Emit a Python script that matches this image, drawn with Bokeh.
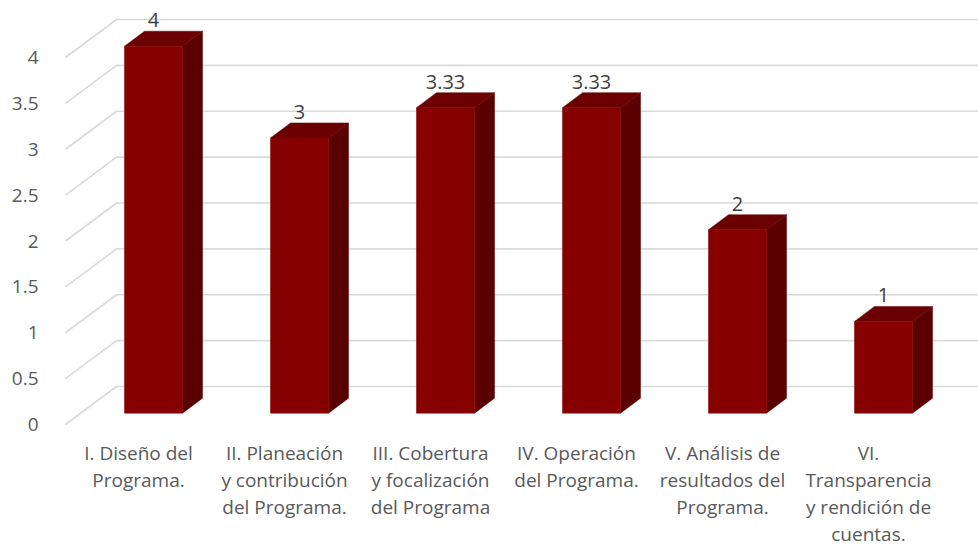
import numpy as np
from bokeh.plotting import figure
from bokeh.models import Range1d, FixedTicker, NumeralTickFormatter, ColumnDataSource
from bokeh.core.properties import value
from bokeh.embed import file_html
from bokeh.resources import INLINE

# ---- data ----
categories = [
    "I. Diseño del\nPrograma.",
    "II. Planeación\ny contribución\ndel Programa.",
    "III. Cobertura\ny focalización\ndel Programa",
    "IV. Operación\ndel Programa.",
    "V. Análisis de\nresultados del\nPrograma.",
    "VI.\nTransparencia\ny rendición de\ncuentas.",
]
scores = [4, 3, 3.33, 3.33, 2, 1]
score_labels = ["4", "3", "3.33", "3.33", "2", "1"]
y_ticks = [0, 0.5, 1, 1.5, 2, 2.5, 3, 3.5, 4]

# ---- 3D look (depth offsets in data units) ----
PX_X = 146.0      # pixels per category
PX_Y = 91.75      # pixels per unit value
bar_w = 58 / PX_X
bar_dx, bar_dy = 15 / PX_X, 11.3 / PX_Y      # bar front offset from front plane
dep_dx, dep_dy = 20 / PX_X, 15 / PX_Y        # bar depth
wall_dx, wall_dy = 51 / PX_X, 38 / PX_Y      # back wall offset

W, H = 978, 546
left_border = 55
x0 = (left_border - 138) / PX_X
x1 = (W - 138) / PX_X
y1 = 424 / PX_Y
y0 = (424 - H) / PX_Y

FONT = "Open Sans"
GREY = "#595959"

p = figure(width=W, height=H, output_backend="svg", toolbar_location=None,
           x_range=Range1d(x0, x1), y_range=Range1d(y0, y1),
           min_border_left=left_border, min_border_right=0,
           min_border_top=0, min_border_bottom=0)
p.outline_line_color = None
p.xgrid.visible = False
p.ygrid.visible = False
p.xaxis.visible = False
p.background_fill_color = "white"

yax = p.yaxis[0]
yax.ticker = FixedTicker(ticks=y_ticks)
yax.formatter = NumeralTickFormatter(format="0.[0]")
yax.axis_line_color = None
yax.major_tick_line_color = None
yax.minor_tick_line_color = None
yax.major_label_standoff = 11
yax.major_label_text_font = FONT
yax.major_label_text_font_size = "19px"
yax.major_label_text_color = GREY

# ---- gridlines on floor/wall in perspective ----
gx, gy = [], []
for t in y_ticks:
    gx.append([-0.5, -0.5 + wall_dx, x1 + 1])
    gy.append([t, t + wall_dy, t + wall_dy])
p.multi_line(gx, gy, line_color="#d9d9d9", line_width=1.6)

# ---- bars ----
xs = np.arange(len(scores))
L = xs + bar_dx - bar_w / 2
R = xs + bar_dx + bar_w / 2
bot = np.full(len(scores), bar_dy)
top = np.array(scores) + bar_dy

side_x, side_y, top_x, top_y = [], [], [], []
for l, r, b, t in zip(L, R, bot, top):
    side_x.append([r, r + dep_dx, r + dep_dx, r])
    side_y.append([b, b + dep_dy, t + dep_dy, t])
    top_x.append([l, r, r + dep_dx, l + dep_dx])
    top_y.append([t, t, t + dep_dy, t + dep_dy])

p.patches(side_x, side_y, fill_color="#5a0000", line_color="#5a0000", line_width=0.5)
p.patches(top_x, top_y, fill_color="#6b0000", line_color="#6b0000", line_width=0.5)
p.quad(left=L, right=R, bottom=bot, top=top, fill_color="#870000",
       line_color="#870000", line_width=0.5)

# ---- data labels ----
lab_src = ColumnDataSource(dict(x=xs + bar_dx, y=top + dep_dy, t=score_labels))
p.text(x="x", y="y", text="t", source=lab_src, text_align="center",
       text_baseline="bottom", y_offset=-4, text_font=value(FONT),
       text_font_size="20px", text_color="#404040")

# ---- category labels ----
cat_src = ColumnDataSource(dict(x=xs, y=np.zeros(len(xs)), t=categories))
p.text(x="x", y="y", text="t", source=cat_src, text_align="center",
       text_baseline="top", y_offset=15, text_font=value(FONT),
       text_font_size="19px", text_color=GREY, text_line_height=1.04)

open("out.html", "w").write(file_html(p, INLINE))
